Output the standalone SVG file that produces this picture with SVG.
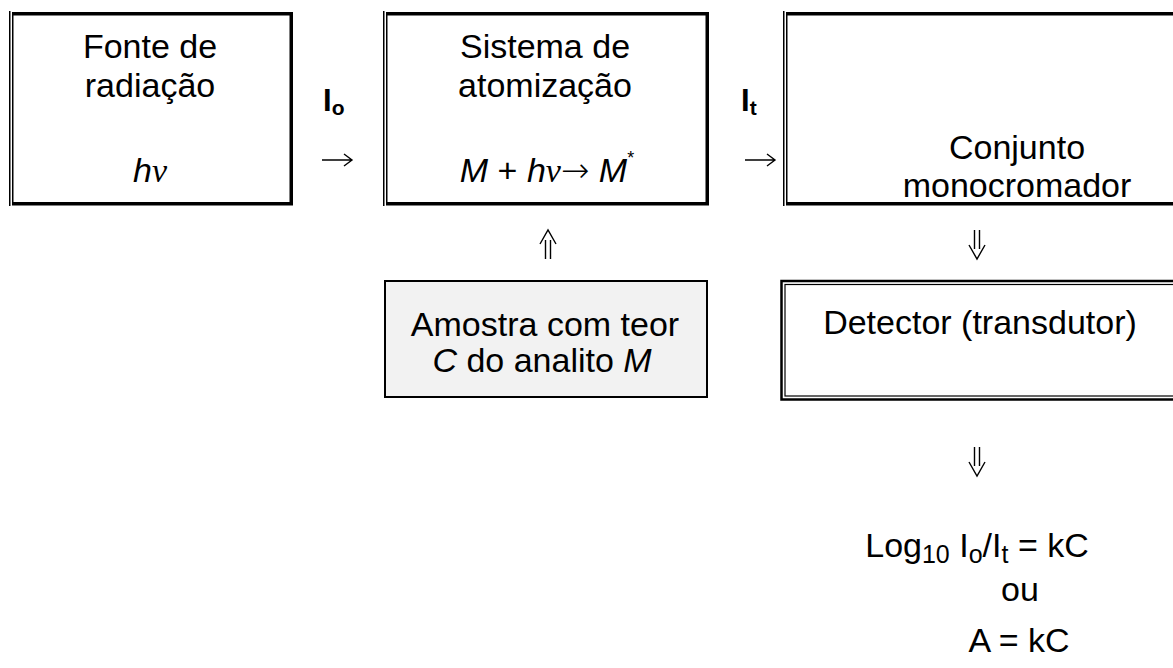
<svg xmlns="http://www.w3.org/2000/svg" width="1173" height="668" viewBox="0 0 1173 668">
<style>
.t{font-family:"Liberation Sans",Arial,sans-serif;font-size:34px;fill:#000;text-anchor:middle}
.i{font-style:italic}
.g{font-family:"Liberation Serif","Times New Roman",serif}
.b{font-family:"Liberation Sans",Arial,sans-serif;font-weight:bold;font-size:31px;fill:#000}
.thick{fill:none;stroke:#000;stroke-width:3.5}
.thin{fill:none;stroke:#000;stroke-width:1.5}
.arr{fill:none;stroke:#000;stroke-width:1.4}
</style>
<rect width="1173" height="668" fill="#fff"/>
<g id="fonte">
<path class="thin" d="M9.75 11V206M12.75 15V204"/>
<path class="thick" d="M12 13.75H291.25V203.75H12"/>
<text class="t" x="150" y="58">Fonte de</text>
<text class="t" x="150" y="97">radiação</text>
<text class="t" x="150" y="182"><tspan class="i">h</tspan><tspan class="g i">ν</tspan></text>
</g>
<g id="atomizacao">
<path class="thin" d="M383.75 11V206M386.75 15V204"/>
<path class="thick" d="M386 13.75H707.25V203.75H386"/>
<text class="t" x="547" y="182"><tspan class="i">M</tspan> + <tspan class="i">h</tspan><tspan class="g i">ν</tspan><tspan font-family="DejaVu Sans" font-size="34" font-weight="200">→</tspan> <tspan class="i">M</tspan><tspan font-size="18" dy="-18">*</tspan></text>
<text class="t" x="545" y="58">Sistema de</text>
<text class="t" x="545" y="97">atomização</text>
</g>
<g id="monocromador">
<path class="thin" d="M783.75 11V206M786.75 15V204"/>
<path class="thick" d="M786 13.75H1180M1180 203.75H786"/>
<text class="t" x="1017" y="159">Conjunto</text>
<text class="t" x="1017" y="197">monocromador</text>
</g>
<g id="amostra">
<rect x="385" y="281" width="322" height="116" fill="#f2f2f2" stroke="#000" stroke-width="2"/>
<text class="t" x="545" y="336">Amostra com teor</text>
<text class="t" x="542" y="372"><tspan class="i">C</tspan> do analito <tspan class="i">M</tspan></text>
</g>
<g id="detector">
<rect x="781.5" y="281" width="420" height="118.5" fill="none" stroke="#000" stroke-width="2.5"/>
<rect x="785" y="284.5" width="420" height="111.5" fill="none" stroke="#000" stroke-width="1.2"/>
<text class="t" x="980" y="334">Detector (transdutor)</text>
</g>
<g id="resultado">
<text class="t" x="977" y="557">Log<tspan font-size="25" dy="6">10</tspan><tspan dy="-6"> I</tspan><tspan font-size="25" dy="6">o</tspan><tspan dy="-6">/I</tspan><tspan font-size="25" dy="6">t</tspan><tspan dy="-6"> = kC</tspan></text>
<text class="t" x="1020" y="601">ou</text>
<text class="t" x="1019" y="652">A = kC</text>
</g>
<g id="connectors">
<text class="b" x="323" y="111">I<tspan font-size="21" dy="4">o</tspan></text>
<text class="b" x="741" y="111">I<tspan font-size="21" dy="4">t</tspan></text>
<path class="arr" d="M322 160H352M344 154L352 160L344 166"/>
<path class="arr" d="M745 160H775M767 154L775 160L767 166"/>
<path class="arr" d="M545.5 240V259M550.5 240V259M540 244L548 230L556 244"/>
<path class="arr" d="M974.5 230V249M979.5 230V249M969 245L977 259L985 245"/>
<path class="arr" d="M974.5 447V466M979.5 447V466M969 462L977 476L985 462"/>
</g>
</svg>
